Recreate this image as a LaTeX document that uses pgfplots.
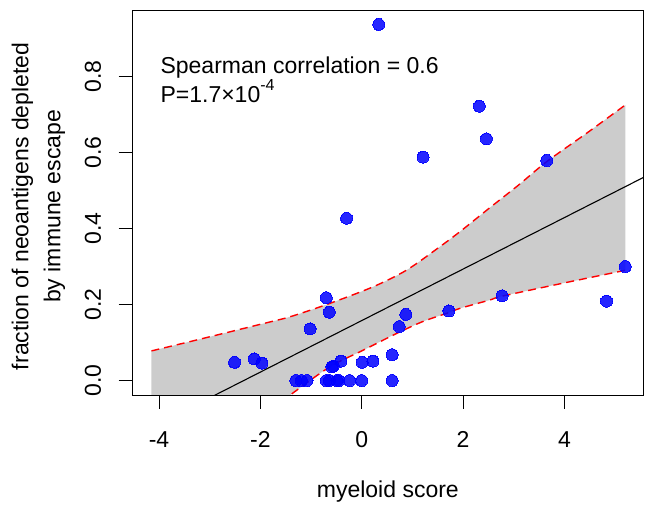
\documentclass[border=0pt]{standalone}
\usepackage{fontspec}
\setmainfont{Liberation Sans}
\usepackage{pgfplots}
\usepackage{pgfplotstable}
\pgfplotsset{compat=1.18}
\usepgfplotslibrary{fillbetween}
\usetikzlibrary{calc}
\newcommand\fs{\fontsize{23}{32}\selectfont}
\pgfplotstableread{
x y
-4.15 0.078
-3.25 0.107
-1.94 0.150
-1.41 0.168
-0.63 0.203
0.23 0.247
0.89 0.291
1.54 0.352
1.94 0.392
2.53 0.455
3.10 0.515
3.65 0.576
4.44 0.651
5.20 0.725
}\upperband
\pgfplotstableread{
x y
-4.15 -0.34
-3.0 -0.21
-2.0 -0.10
-1.41 -0.038
-0.63 0.036
0.03 0.080
0.69 0.124
1.20 0.155
1.68 0.177
1.94 0.190
2.53 0.212
2.77 0.222
4.00 0.257
5.20 0.290
}\lowerband
\begin{document}
\begin{tikzpicture}
\begin{axis}[
  name=ax, at={(0,0)}, anchor=south west,
  scale only axis, width=510.3pt, height=385pt,
  xmin=-4.52, xmax=5.55, ymin=-0.038, ymax=0.975,
  axis line style={line width=0.9pt},
  xtick={-4,-2,0,2,4}, ytick={0,0.2,0.4,0.6,0.8},
  tick align=outside, tick pos=left, major tick length=14pt,
  every tick/.style={black, line width=0.9pt},
  /pgf/number format/assume math mode=true,
  tick label style={font=\fs},
  xticklabel shift=19pt,
  yticklabel shift=14pt,
  yticklabel style={rotate=90, anchor=south, /pgf/number format/.cd, fixed, fixed zerofill, precision=1},
  xlabel={myeloid score},
  xlabel style={font=\fs, at={(axis description cs:0.5,0)}, anchor=base, yshift=-103pt},
  ylabel={fraction of neoantigens depleted\\by immune escape},
  ylabel style={font=\fs, align=center, at={(axis description cs:-0.1846,0.49)}, anchor=center},
  clip=true,
]
\addplot[name path=U, draw=none, smooth, tension=0.5] table {\upperband};
\addplot[name path=L, draw=none, smooth, tension=0.5] table {\lowerband};
\addplot[fill=black!20, draw=none] fill between[of=U and L];
% regression line
\addplot[black, line width=1.1pt] coordinates {(-3.2,-0.059) (5.7,0.544)};
% dashed limits
\addplot[red, line width=1.4pt, dash pattern=on 8pt off 5pt, smooth, tension=0.5] table {\upperband};
\addplot[red, line width=1.4pt, dash pattern=on 8pt off 5pt, smooth, tension=0.5] table {\lowerband};
% points
\addplot[only marks, mark=*, mark size=6pt, color=blue, opacity=0.85, mark options={draw=blue, fill=blue, line width=0pt}] coordinates {
(0.335,0.937) (2.32,0.722) (2.46,0.636) (1.21,0.588) (3.65,0.579) (-0.30,0.427)
(5.20,0.300) (4.83,0.209) (2.77,0.223) (1.72,0.183) (-0.70,0.218) (-0.64,0.180)
(0.87,0.174) (0.74,0.142) (-1.02,0.136) (-2.51,0.048) (-2.12,0.057) (-1.97,0.046)
(-0.59,0.036) (-0.56,0.038) (-0.41,0.051) (0.01,0.048) (0.22,0.051) (0.60,0.068)
(-1.30,0) (-1.19,0) (-1.08,0) (-0.70,0) (-0.64,0) (-0.49,0) (-0.45,0) (-0.24,0) (0.0,0) (0.60,0)
};
\node[font=\fs, anchor=base west] at (axis cs:-4.04,0.807) {Spearman correlation = 0.6};
\node[font=\fs, anchor=base west] at (axis cs:-4.04,0.731) {P=1.7×10\raisebox{0.55em}{\fontsize{16}{16}\selectfont -4}};
\end{axis}
\pgfresetboundingbox
\path[use as bounding box] ($(ax.south west)+(-132.7pt,-113pt)$) rectangle ($(ax.north east)+(9pt,10pt)$);
\end{tikzpicture}
\end{document}
